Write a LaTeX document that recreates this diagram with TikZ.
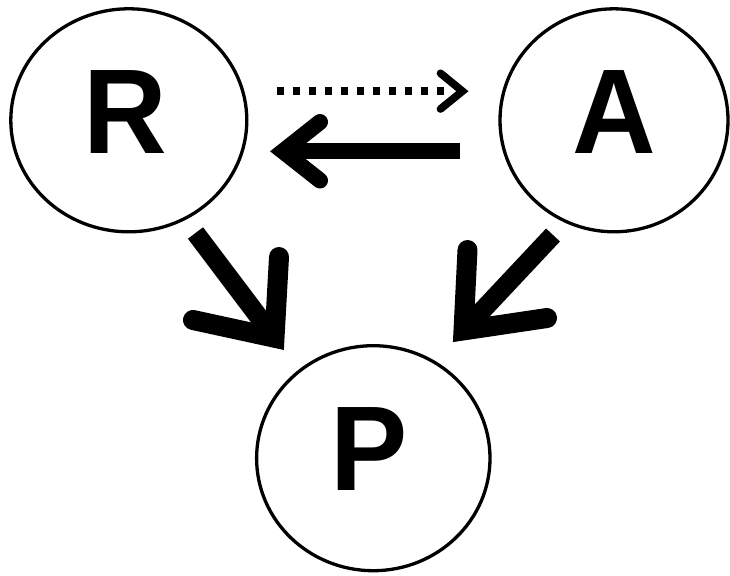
\documentclass[tikz,border=0pt]{standalone}
\usepackage{fontspec}
\setmainfont[FakeStretch=0.96]{Liberation Sans}
\usetikzlibrary{shapes.geometric}
\begin{document}
\begin{tikzpicture}[x=1pt,y=-1pt,
  state/.style={ellipse, draw, line width=3.3pt, inner sep=0pt, text depth=0pt,
    font=\fontsize{120.6}{120.6}\selectfont\bfseries},
  shaft/.style={line width=#1, line cap=butt},
  head/.style={line width=#1, line cap=round, line join=miter, miter limit=10}]
\useasboundingbox (0,0) rectangle (730,575);
% states
\node[state, minimum width=236pt, minimum height=223pt, text height=65.4pt] (R) at (128.8,120.3) {R\kern6pt};
\node[state, minimum width=228pt, minimum height=223pt, text height=65.4pt] (A) at (614,120.3) {A};
\node[state, minimum width=233.4pt, minimum height=225pt, text height=63.6pt] (P) at (373.3,458.2) {P\kern9pt};
% connector end points
\coordinate (ra0) at (276.7,91.2);
\coordinate (ra1) at (445,91.2);
\coordinate (raT) at (462.4,91.2);
\coordinate (raU) at (440.5,73.3);
\coordinate (raL) at (440.5,109);
\coordinate (ar0) at (460,151.3);
\coordinate (arT) at (283,151.3);
\coordinate (arU) at (320,122);
\coordinate (arL) at (320,180.5);
\coordinate (rp0) at (195.5,233);
\coordinate (rpT) at (274.5,337.7);
\coordinate (rpU) at (279,257);
\coordinate (rpL) at (193,320);
\coordinate (ap0) at (553,235);
\coordinate (apT) at (463.5,330.4);
\coordinate (apU) at (467.5,250);
\coordinate (apL) at (547,318);
% R -> A (dotted)
\draw[shaft=7.7pt, dash pattern=on 7.7pt off 8.3pt] (ra0) -- (ra1);
\draw[head=7.7pt] (raU) -- (raT) -- (raL);
% A -> R
\draw[shaft=16pt] (ar0) -- (arT);
\draw[head=16pt] (arU) -- (arT) -- (arL);
% R -> P
\draw[shaft=19pt] (rp0) -- (rpT);
\draw[head=20pt] (rpU) -- (rpT) -- (rpL);
% A -> P
\draw[shaft=19pt] (ap0) -- (apT);
\draw[head=20pt] (apU) -- (apT) -- (apL);
\end{tikzpicture}
\end{document}
